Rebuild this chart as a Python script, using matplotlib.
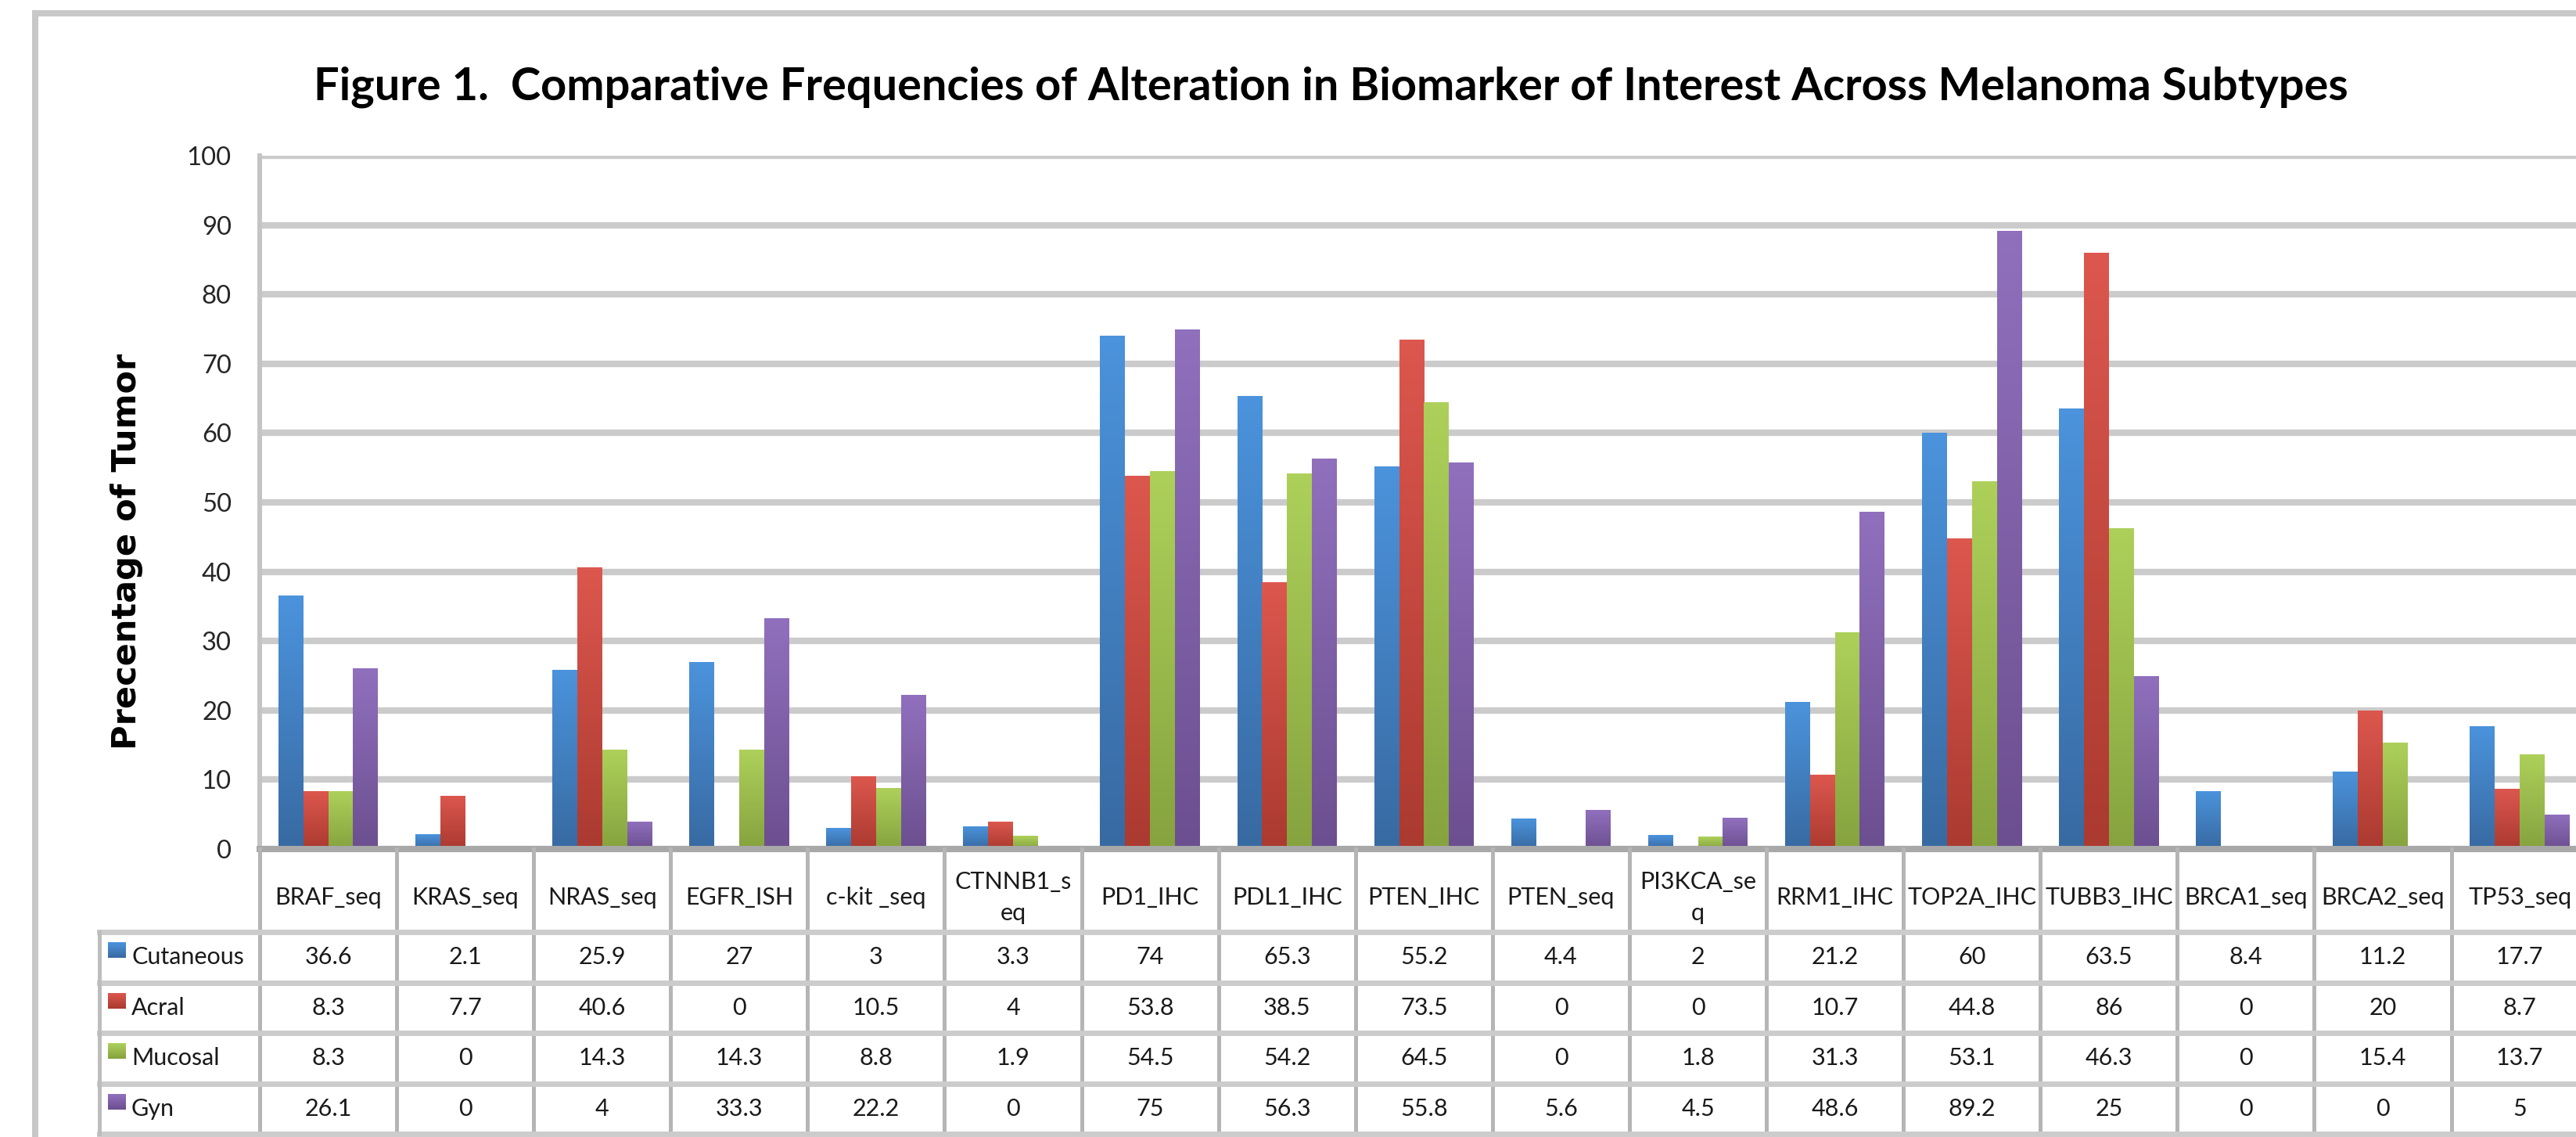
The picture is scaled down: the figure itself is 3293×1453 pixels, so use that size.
import numpy as np
import matplotlib
matplotlib.use("Agg")
import matplotlib.pyplot as plt
from matplotlib.patches import Rectangle
from matplotlib.colors import LinearSegmentedColormap
from matplotlib import transforms
from matplotlib.lines import Line2D

# ---------------- data ----------------
categories = ["BRAF_seq", "KRAS_seq", "NRAS_seq", "EGFR_ISH", "c-kit _seq", "CTNNB1_s\neq",
              "PD1_IHC", "PDL1_IHC", "PTEN_IHC", "PTEN_seq", "PI3KCA_se\nq", "RRM1_IHC",
              "TOP2A_IHC", "TUBB3_IHC", "BRCA1_seq", "BRCA2_seq", "TP53_seq"]
series_names = ["Cutaneous", "Acral", "Mucosal", "Gyn"]
cutaneous = [36.6, 2.1, 25.9, 27, 3, 3.3, 74, 65.3, 55.2, 4.4, 2, 21.2, 60, 63.5, 8.4, 11.2, 17.7]
acral     = [8.3, 7.7, 40.6, 0, 10.5, 4, 53.8, 38.5, 73.5, 0, 0, 10.7, 44.8, 86, 0, 20, 8.7]
mucosal   = [8.3, 0, 14.3, 14.3, 8.8, 1.9, 54.5, 54.2, 64.5, 0, 1.8, 31.3, 53.1, 46.3, 0, 15.4, 13.7]
gyn       = [26.1, 0, 4, 33.3, 22.2, 0, 75, 56.3, 55.8, 5.6, 4.5, 48.6, 89.2, 25, 0, 0, 5]
yticks = [0, 10, 20, 30, 40, 50, 60, 70, 80, 90, 100]
title = "Figure 1.  Comparative Frequencies of Alteration in Biomarker of Interest Across Melanoma Subtypes"
ylabel = "Precentage of Tumor"

series = [cutaneous, acral, mucosal, gyn]
# gradient (top, bottom) colours per series
grad_colors = [("#4b93dc", "#386aa2"), ("#dc574e", "#ab3a30"),
               ("#add05a", "#86a33f"), ("#9070bd", "#6c4f90")]

# ---------------- figure ----------------
W, H = 3293, 1453
fig = plt.figure(figsize=(W / 100, H / 100), dpi=100)
fig.patch.set_facecolor("white")

def fx(px):
    return px / W

def fy(py):
    return 1 - py / H

renderer = fig.canvas.get_renderer()

def fit_size(s, target, **kw):
    t = fig.text(0, 0, s, fontsize=20, **kw)
    w = t.get_window_extent(renderer).width
    t.remove()
    return 20 * target / w

# axes geometry (pixels)
ax_left, ax_zero, ax_top = 332, 1085, 199
cat_w = 175.1
ncat = len(categories)
ax = fig.add_axes([fx(ax_left), fy(ax_zero), ncat * cat_w / W, (ax_zero - ax_top) / H])
ax.set_facecolor("none")

n = len(series)
bw = 1 / 5.5
x = np.arange(ncat)
for i, (vals, (ctop, cbot)) in enumerate(zip(series, grad_colors)):
    bars = ax.bar(x + (i - (n - 1) / 2) * bw, vals, width=bw, color="none",
                  edgecolor="none", zorder=3)
    cmap = LinearSegmentedColormap.from_list(f"g{i}", [cbot, ctop])
    grad = np.linspace(0, 1, 64).reshape(-1, 1)
    for rect in bars:
        h = rect.get_height()
        if h <= 0:
            continue
        x0 = rect.get_x()
        im = ax.imshow(grad, extent=(x0, x0 + rect.get_width(), 0, h), cmap=cmap,
                       aspect="auto", origin="lower", interpolation="bilinear", zorder=3)
        im.set_clip_path(rect)

ax.set_xlim(-0.5, ncat - 0.5)
ax.set_ylim(0, 100)
ax.set_yticks(yticks)
ax.set_xticks([])
ax.yaxis.grid(True, color="#cbcbcb", linewidth=6.0, zorder=0)
ax.set_axisbelow(True)
for s in ["top", "right"]:
    ax.spines[s].set_visible(False)
ax.spines["left"].set_color("#c4c4c4")
ax.spines["left"].set_linewidth(4.3)
ax.spines["bottom"].set_color("#a8a8a8")
ax.spines["bottom"].set_linewidth(5.8)
ax.spines["bottom"].set_zorder(4)

tick_fs = fit_size("100", 57, family="Lato")
ax.tick_params(axis="y", length=0, pad=26, labelsize=tick_fs, labelcolor="#262626")
for lab in ax.get_yticklabels():
    lab.set_family("Lato")

# ---------------- title & y label ----------------
title_fs = fit_size(title, 2602, family="Lato", weight="bold")
fig.text(fx(1701), fy(127), title, ha="center", va="baseline", fontsize=title_fs,
         family="Lato", weight="bold", color="black")
yl_fs = fit_size(ylabel, 506, family="DejaVu Sans", weight="bold")
fig.text(fx(162), fy(705), ylabel, rotation=90, ha="center", va="center",
         fontsize=yl_fs, family="DejaVu Sans", weight="bold", color="black")

# ---------------- outer frame (square corners, runs off right/bottom) ----------------
frame = Rectangle((45, -200), 3500, H - 16.5 + 200,
                  transform=transforms.IdentityTransform(), fill=False,
                  edgecolor="#c8c8c8", linewidth=5.8, joinstyle="miter")
fig.add_artist(frame)

# ---------------- data table ----------------
blend = transforms.blended_transform_factory(ax.transData, fig.transFigure)
table_fs = fit_size("BRAF_seq", 137, family="Lato")
row_top = 1191
row_h = 64.5
legend_left = 127

# vertical dividers (category boundaries)
for b in np.arange(-0.5, ncat, 1.0):
    ax.add_line(Line2D([b, b], [fy(ax_zero), fy(row_top + 4 * row_h)], transform=blend,
                       color="#b5b5b5", linewidth=3.6, clip_on=False, zorder=5))

# horizontal lines
for r in range(5):
    yy = fy(row_top + r * row_h)
    fig.add_artist(Line2D([fx(legend_left), 1.02], [yy, yy], transform=fig.transFigure,
                          color="#cccccc", linewidth=5.0, zorder=1))
fig.add_artist(Line2D([fx(legend_left), fx(legend_left)], [fy(row_top), fy(row_top + 4 * row_h)],
                      transform=fig.transFigure, color="#bdbdbd", linewidth=3.6))

# header labels
for j, c in enumerate(categories):
    ax.text(j, fy(1147), c, transform=blend, ha="center", va="center", fontsize=table_fs,
            family="Lato", color="#1a1a1a", linespacing=1.55, clip_on=False)

# rows
for i, (name, vals, (ctop, cbot)) in enumerate(zip(series_names, series, grad_colors)):
    yc = row_top + (i + 0.5) * row_h
    cmap = LinearSegmentedColormap.from_list(f"k{i}", [cbot, ctop])
    key_ax = fig.add_axes([fx(138), fy(yc + 1), fx(23), 20 / H])
    key_ax.imshow(np.linspace(0, 1, 32).reshape(-1, 1), cmap=cmap, aspect="auto",
                  origin="lower", interpolation="bilinear")
    key_ax.set_axis_off()
    fig.text(fx(168), fy(yc), name, ha="left", va="center", fontsize=table_fs,
             family="Lato", color="#1a1a1a")
    for j, v in enumerate(vals):
        ax.text(j, fy(yc), f"{v:g}", transform=blend, ha="center", va="center",
                fontsize=table_fs, family="Lato", color="#1a1a1a", clip_on=False)

fig.savefig("out.png", dpi=100, facecolor="white")
